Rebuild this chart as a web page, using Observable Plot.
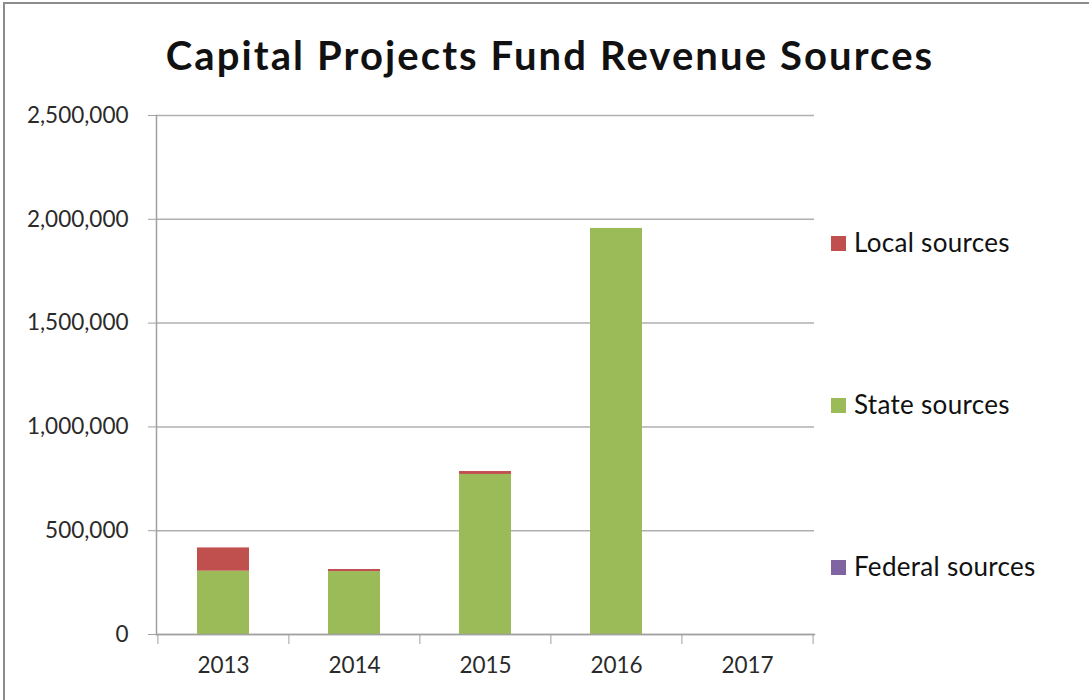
<!DOCTYPE html>
<html>
<head>
<meta charset="utf-8">
<script src="https://cdn.jsdelivr.net/npm/d3@7"></script>
<script src="https://cdn.jsdelivr.net/npm/@observablehq/plot@0.6"></script>
<style>
  html, body { margin: 0; padding: 0; background: #fff; }
  #wrap { position: relative; width: 1089px; height: 700px; box-sizing: border-box; border-left: 2px solid #8c8c8c; border-top: 2px solid #8c8c8c; margin-left: 3px; margin-top: 2px; overflow: hidden; font-family: Lato, "Open Sans", sans-serif; }
  #title { position: absolute; left: -5px; top: 1px; width: 1100px; height: 100px; text-align: center; font-weight: bold; font-size: 40px; letter-spacing: 2.1px; line-height: 100px; color: #111; }
  #chart { position: absolute; left: -5px; top: 94px; }
  #legend { position: absolute; left: 826px; top: -2px; }
  .item { position: absolute; left: 0; white-space: nowrap; font-size: 26px; letter-spacing: 0.3px; color: #111; }
  .sw { display: inline-block; width: 15px; height: 15px; margin-right: 8px; vertical-align: 1px; }
</style>
</head>
<body>
<div id="wrap">
  <div id="title"></div>
  <div id="chart"></div>
  <div id="legend"></div>
</div>
<script>
const title = "Capital Projects Fund Revenue Sources";
const years = ["2013", "2014", "2015", "2016", "2017"];
const seriesNames = ["Federal sources", "State sources", "Local sources"];
const seriesColors = ["#8064A2", "#9BBB59", "#C0504D"];
const federal = [0, 0, 0, 0, 0];
const state = [305000, 303000, 771000, 1956000, 0];
const local = [112000, 10000, 14000, 0, 0];
const yTicks = [0, 500000, 1000000, 1500000, 2000000, 2500000];

document.getElementById("title").textContent = title;

const seriesValues = [federal, state, local];
const rows = [];
seriesNames.forEach((s, si) => {
  years.forEach((y, yi) => rows.push({year: y, series: s, value: seriesValues[si][yi]}));
});

const plot = Plot.plot({
  width: 1089,
  height: 602,
  marginTop: 17,
  marginBottom: 66,
  marginLeft: 156,
  marginRight: 275,
  style: {fontFamily: "Lato, 'Open Sans', sans-serif", fontSize: "22px", color: "#2a2a2a", background: "#fff"},
  x: {domain: years, paddingInner: 0.6, paddingOuter: 0.3, label: null},
  y: {domain: [0, 2500000], label: null},
  color: {domain: seriesNames, range: seriesColors},
  marks: [
    Plot.gridY(yTicks, {stroke: "#b0b0b0", strokeOpacity: 1, strokeWidth: 1.5}),
    Plot.barY(rows, Plot.stackY({order: seriesNames, x: "year", y: "value", fill: "series"})),
    Plot.axisY(yTicks, {tickSize: 8, tickPadding: 20, tickFormat: d3.format(","), stroke: "#a0a0a0", label: null, fontSize: 22.5}),
    Plot.axisX({tickSize: 0, tickPadding: 23, label: null, fontSize: 22.5}),
    Plot.axisX({ticks: years, tickSize: 10, dx: -65.6, tickFormat: () => "", stroke: "#a0a0a0", label: null}),
    Plot.axisX({ticks: years.slice(-1), tickSize: 10, dx: 65.6, tickFormat: () => "", stroke: "#a0a0a0", label: null}),
    Plot.frame({anchor: "left", stroke: "#a0a0a0", strokeWidth: 1.5}),
    Plot.frame({anchor: "bottom", stroke: "#a0a0a0", strokeWidth: 1.5})
  ]
});
document.getElementById("chart").appendChild(plot);

const legend = document.getElementById("legend");
const legendTops = [224, 386, 548];
const legendOrder = seriesNames.slice().reverse();
legendOrder.forEach((s, i) => {
  const div = document.createElement("div");
  div.className = "item";
  div.style.top = legendTops[i] + "px";
  const sw = document.createElement("span");
  sw.className = "sw";
  sw.style.background = seriesColors[seriesNames.indexOf(s)];
  div.appendChild(sw);
  div.appendChild(document.createTextNode(s));
  legend.appendChild(div);
});
</script>
</body>
</html>
